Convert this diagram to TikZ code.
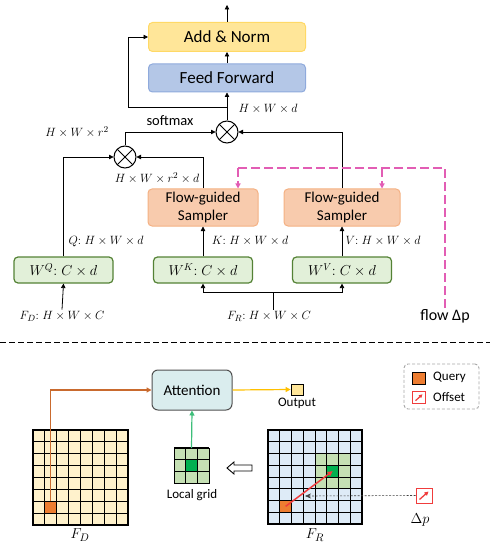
\documentclass[tikz,border=0pt]{standalone}
\usepackage{fontspec}
\setmainfont{Carlito}
\usetikzlibrary{arrows.meta}
\definecolor{addfill}{HTML}{FFE699}
\definecolor{adddraw}{HTML}{FFD966}
\definecolor{fffill}{HTML}{B4C7E7}
\definecolor{ffdraw}{HTML}{8FAADC}
\definecolor{smpfill}{HTML}{F8CBAD}
\definecolor{smpdraw}{HTML}{F4B183}
\definecolor{wfill}{HTML}{E2F0D9}
\definecolor{wdraw}{HTML}{548235}
\definecolor{attfill}{HTML}{DAEDEE}
\definecolor{attdraw}{HTML}{505050}
\definecolor{flowpink}{HTML}{E25DB4}
\definecolor{qorange}{HTML}{ED7D31}
\definecolor{qline}{HTML}{C96A2E}
\definecolor{outyellow}{HTML}{FFC000}
\definecolor{gridyellow}{HTML}{FFF2CC}
\definecolor{gridblue}{HTML}{DEEBF7}
\definecolor{lgreen}{HTML}{C5E0B4}
\definecolor{dgreen}{HTML}{00B050}
\definecolor{arrgreen}{HTML}{3DBE7A}
\definecolor{offred}{HTML}{F03C3C}
\definecolor{leggray}{HTML}{A6A6A6}
\tikzset{
  arr/.style={line width=0.8pt,-{Triangle[length=4.5pt,width=4.5pt]}},
  ln/.style={line width=0.8pt},
  box/.style={rounded corners=4pt,line width=1pt,align=center,inner sep=0pt},
  addbox/.style={box,fill=addfill,draw=adddraw,minimum width=157pt,minimum height=29pt,font=\fontsize{17}{20}\selectfont},
  ffbox/.style={box,fill=fffill,draw=ffdraw,minimum width=157pt,minimum height=28pt,font=\fontsize{17}{20}\selectfont},
  smpbox/.style={box,fill=smpfill,draw=smpdraw,minimum height=37pt,font=\fontsize{15}{18}\selectfont},
  wbox/.style={box,fill=wfill,draw=wdraw,line width=1.2pt,minimum width=99pt,minimum height=26pt,font=\fontsize{14}{16}\selectfont},
  mult/.style={circle,draw,line width=1pt,minimum size=22pt,inner sep=0pt,
    path picture={\draw[line width=1pt] (path picture bounding box.north west)--(path picture bounding box.south east)
      (path picture bounding box.north east)--(path picture bounding box.south west);}},
  lbl/.style={inner sep=1pt,font=\fontsize{12.5}{14}\selectfont},
  pinkln/.style={draw=flowpink,line width=1.2pt,dash pattern=on 9pt off 4pt},
  pinkarr/.style={pinkln,-{Triangle[length=5pt,width=5pt]}},
  gridln/.style={line width=0.9pt},
}
\begin{document}
\begin{tikzpicture}[x=1pt,y=-1pt]
\useasboundingbox (0,0) rectangle (490,545);
% ---------- top part ----------
\node[addbox] (add) at (227,37) {Add \& Norm};
\node[ffbox] (ff) at (227,78) {Feed Forward};
\node[mult] (m2) at (227,132) {};
\node[mult] (m1) at (125,157) {};
\node[smpbox,minimum width=110pt] (s1) at (203,207.5) {Flow-guided\\Sampler};
\node[smpbox,minimum width=116pt] (s2) at (342,207.5) {Flow-guided\\Sampler};
\node[wbox] (wq) at (63.5,270) {$W^{Q}{:}\;C\times d$};
\node[wbox] (wk) at (203,270) {$W^{K}{:}\;C\times d$};
\node[wbox] (wv) at (342,270) {$W^{V}{:}\;C\times d$};
\node[lbl] (fd) at (62,316) {$F_D{:}\;H\times W\times C$};
\node[lbl] (fr) at (269,316) {$F_R{:}\;H\times W\times C$};
\node[inner sep=1pt,font=\fontsize{16}{18}\selectfont] (flow) at (445,316) {flow Δp};
% labels
\node[lbl] (l1) at (268,109) {$H\times W\times d$};
\node[inner sep=1pt,font=\fontsize{14.5}{16}\selectfont] (sm) at (170,121) {softmax};
\node[lbl] (l2) at (77,132) {$H\times W\times r^2$};
\node[lbl] (l3) at (157,178) {$H\times W\times r^2\times d$};
\node[lbl] (lq) at (106,241) {$Q{:}\;H\times W\times d$};
\node[lbl] (lk) at (250,241) {$K{:}\;H\times W\times d$};
\node[lbl] (lv) at (383,241) {$V{:}\;H\times W\times d$};
% connectors
\coordinate (top) at (227,5);
\draw[arr] (add.north) -- (top);
\draw[arr] (ff.north) -- (add.south);
\draw[arr] (m2.north) -- (ff.south);
\coordinate (sk) at (227,107);
\coordinate (skl) at (128,107);
\draw[arr] (sk) -- (skl) |- (add.west);
\draw[arr] (m1.north) |- (m2.west);
\draw[arr] (s2.north) |- (m2.east);
\draw[arr] (wq.north) |- (m1.west);
\draw[arr] (s1.north) |- (m1.east);
\draw[arr] (wk.north) -- (s1.south);
\draw[arr] (wv.north) -- (s2.south);
\draw[arr] (fd.north) -- (wq.south);
\coordinate (frj) at (273,292);
\draw[ln] (fr.north -| frj) -- (frj);
\draw[arr] (frj) -| (wk.south);
\draw[arr] (frj) -| (wv.south);
% flow
\coordinate (fc) at (445,168);
\coordinate (fl) at (238,168);
\coordinate (fm) at (382,168);
\draw[pinkln] (flow.north) -- (fc) -- (fl);
\draw[pinkarr] (fl) -- (s1.north -| fl);
\draw[pinkarr] (fm) -- (s2.north -| fm);
% separator
\draw[line width=1pt,dash pattern=on 6pt off 3pt] (0,342) -- (490,342);
% ---------- bottom part ----------
\node[box,fill=attfill,draw=attdraw,rounded corners=6pt,minimum width=80pt,minimum height=40pt,font=\fontsize{15}{18}\selectfont] (att) at (192,390) {Attention};
\node[draw,line width=0.8pt,fill=addfill,minimum width=12pt,minimum height=11pt,inner sep=0pt] (out) at (297,389.5) {};
\node[inner sep=1pt,font=\fontsize{13}{15}\selectfont] (outl) at (297,403) {Output};
\draw[outyellow,line width=1.2pt,-{Triangle[length=5pt,width=5pt]}] (att.east) -- (out.west);
% F_D grid
\def\ca{11.875}
\begin{scope}[shift={(33,430)}]
  \fill[gridyellow] (0,0) rectangle (8*\ca,8*\ca);
  \fill[qorange] (\ca,6*\ca) rectangle (2*\ca,7*\ca);
  \foreach \i in {1,...,7} {
    \draw[gridln] (\i*\ca,0) -- (\i*\ca,8*\ca);
    \draw[gridln] (0,\i*\ca) -- (8*\ca,\i*\ca);
  }
  \draw[line width=1.3pt] (0,0) rectangle (8*\ca,8*\ca);
  \coordinate (qd) at (1.5*\ca,6*\ca);
\end{scope}
\node[inner sep=1pt,font=\fontsize{15}{17}\selectfont] (fdl) at (80,535) {$F_D$};
\coordinate (qturn) at (50,390);
\draw[qline,line width=1.2pt,-{Triangle[length=5pt,width=5pt]}] (qd) -- (qd |- att.west) -- (att.west);
% local grid
\def\cb{11.67}
\begin{scope}[shift={(174,448)}]
  \fill[lgreen] (0,0) rectangle (3*\cb,3*\cb);
  \fill[dgreen] (\cb,\cb) rectangle (2*\cb,2*\cb);
  \foreach \i in {1,2} {
    \draw[gridln] (\i*\cb,0) -- (\i*\cb,3*\cb);
    \draw[gridln] (0,\i*\cb) -- (3*\cb,\i*\cb);
  }
  \draw[gridln] (0,0) rectangle (3*\cb,3*\cb);
  \draw[line width=1.6pt] (0,0) -- (3*\cb,0);
  \coordinate (lgt) at (1.5*\cb,0);
\end{scope}
\node[inner sep=1pt,font=\fontsize{13}{15}\selectfont] (lgl) at (192,495) {Local grid};
\draw[arrgreen,line width=1.2pt,-{Triangle[length=5pt,width=5pt]}] (lgt) -- (att.south);
% hollow arrow
\draw[line width=0.9pt,fill=white] (252,465) -- (234,465) -- (234,462) -- (227,468) -- (234,474) -- (234,471) -- (252,471) -- cycle;
% F_R grid
\def\cc{11.75}
\begin{scope}[shift={(268,430)}]
  \fill[gridblue] (0,0) rectangle (8*\cc,8*\cc);
  \fill[lgreen] (4*\cc,2*\cc) rectangle (7*\cc,5*\cc);
  \fill[dgreen] (5*\cc,3*\cc) rectangle (6*\cc,4*\cc);
  \fill[qorange] (\cc,6*\cc) rectangle (2*\cc,7*\cc);
  \foreach \i in {1,...,7} {
    \draw[gridln] (\i*\cc,0) -- (\i*\cc,8*\cc);
    \draw[gridln] (0,\i*\cc) -- (8*\cc,\i*\cc);
  }
  \draw[line width=1.3pt] (0,0) rectangle (8*\cc,8*\cc);
  \coordinate (qr) at (1.5*\cc,6.5*\cc);
  \coordinate (gr) at (5.5*\cc,3.5*\cc);
\end{scope}
\node[inner sep=1pt,font=\fontsize{15}{17}\selectfont] (frl) at (315,535) {$F_R$};
\draw[offred,line width=1.5pt,-{Triangle[length=5pt,width=5pt]}] (qr) -- (gr);
% delta p
\node[draw=offred,line width=1pt,fill=white,minimum width=16pt,minimum height=15pt,inner sep=0pt] (dp) at (424,495.5) {};
\draw[offred,line width=1.3pt,-{Triangle[length=4pt,width=4pt]}] ([shift={(-4.5,4)}]dp.center) -- ([shift={(4.5,-4)}]dp.center);
\coordinate (dpe) at (305,496);
\draw[draw=black!75,line width=0.6pt,dash pattern=on 2pt off 1.5pt,-{Stealth[length=6pt,width=5pt]}] (dp.west) -- (dpe);
\node[inner sep=1pt,font=\fontsize{15}{17}\selectfont] (dpl) at (420,520) {$\Delta p$};
% legend
\node[draw=leggray,line width=0.9pt,dash pattern=on 3pt off 2pt,rounded corners=4pt,minimum width=75pt,minimum height=45pt,inner sep=0pt] (leg) at (441.5,386.5) {};
\node[draw,line width=1pt,fill=qorange,minimum width=13pt,minimum height=12pt,inner sep=0pt] (lq1) at (419,378) {};
\node[anchor=west,inner sep=0pt,font=\fontsize{13}{15}\selectfont] (lqt) at (433,377) {Query};
\node[draw=offred,line width=1pt,fill=white,minimum width=13pt,minimum height=12pt,inner sep=0pt] (lo1) at (419,397.5) {};
\draw[offred,line width=1.2pt,-{Triangle[length=3.5pt,width=3.5pt]}] ([shift={(-3.5,3.2)}]lo1.center) -- ([shift={(3.5,-3.2)}]lo1.center);
\node[anchor=west,inner sep=0pt,font=\fontsize{13}{15}\selectfont] (lot) at (433,397) {Offset};
\end{tikzpicture}
\end{document}
